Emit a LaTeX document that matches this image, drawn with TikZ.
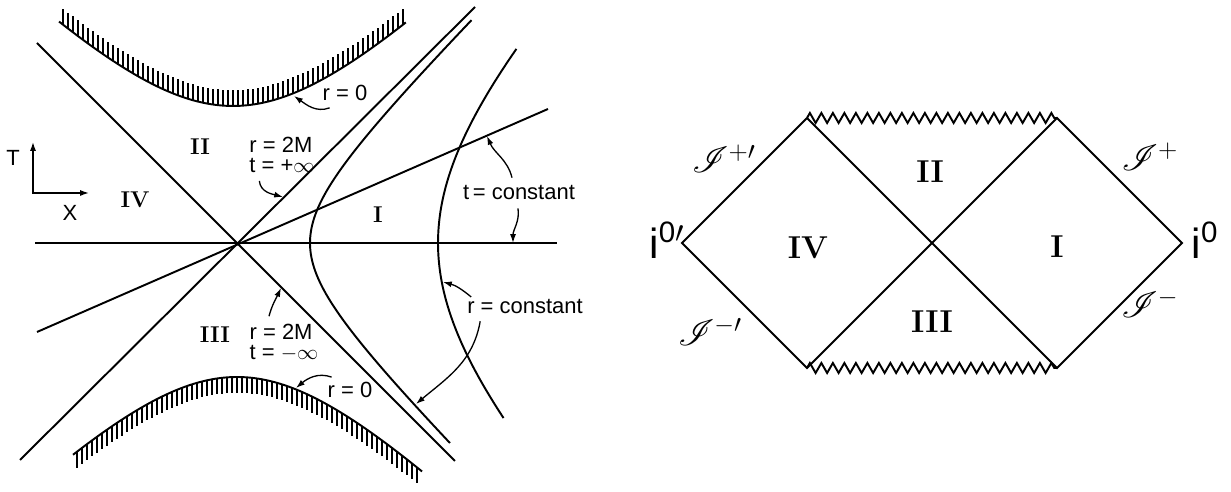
\documentclass[tikz,border=0pt]{standalone}
\usepackage{amsmath,amssymb,mathrsfs}
\usepackage{fontspec}
\setsansfont{Liberation Sans}
\usetikzlibrary{arrows.meta,positioning,decorations.pathmorphing}

\begin{document}
\begin{tikzpicture}[x=0.2mm,y=0.2mm,>={Latex[length=5pt,width=3.4pt]},
  every node/.style={align=center,inner sep=1pt},
  world/.style={line width=1.1pt},
  hatch/.style={line width=0.6pt},
  note/.style={->,line width=0.75pt},
  lab/.style={font=\sffamily\fontsize{12.5}{11.5}\selectfont},
  ilab/.style={font=\sffamily\fontsize{24}{24}\selectfont},
  roman/.style={font=\bfseries\fontsize{13}{13}\selectfont},
  bigroman/.style={font=\bfseries\fontsize{18}{18}\selectfont},
  scri/.style={font=\fontsize{20}{20}\selectfont},
  sing/.style={line width=1.1pt,decorate,decoration={zigzag,segment length=2.3mm,amplitude=1mm}}]
  \useasboundingbox (0,0) rectangle (1231,492);

  \begin{scope}[shift={(237,249)}]
    \draw[world] (-202,0) -- (320,0);
    \draw[world] (-217,-217) -- (238,236);
    \draw[world] (-200,200) -- (218,-218);
    \draw[world] (-200,-89) -- (311,134);
    \draw[world] plot[domain=-1.733:1.836,samples=80,smooth] ({73*cosh(\x)},{73*sinh(\x)});
    \draw[world] plot[domain=-0.787:0.857,samples=60,smooth] ({201*cosh(\x)},{201*sinh(\x)});
    \draw[world] plot[domain=-1.06:1.055,samples=60,smooth] ({137*sinh(\x)-4},{137*cosh(\x)});
    \draw[world] plot[domain=-1.031:1.127,samples=60,smooth] ({134*sinh(\x)},{-134*cosh(\x)});
    \foreach \X in {-170,-165,...,170}
      \draw[hatch] ({\X-4},{100*sqrt(1.37*1.37+(\X/100)*(\X/100))}) -- ++(0,16);
    \foreach \X in {-160,-155,...,184}
      \draw[hatch] (\X,{-100*sqrt(1.34*1.34+(\X/100)*(\X/100))}) -- ++(0,-16);
  \end{scope}

  \coordinate (Tend) at (33,350);
  \coordinate (Xend) at (89,299);
  \draw[<->,line width=0.8pt] (Tend) |- (Xend);
  \node[lab] (Tlab) at (13,334) {T};
  \node[lab] (Xlab) at (70,279) {X};

  \node[roman] (leftII) at (200,345) {II};
  \node[roman] (leftIV) at (135,292) {IV};
  \node[roman] (leftI) at (378,277) {I};
  \node[roman] (leftIII) at (215,157) {III};

  \coordinate (onTop) at (294,396);
  \coordinate (onBot) at (296,104);
  \coordinate (onHorA) at (283,295);
  \coordinate (onHorB) at (281,204);
  \coordinate (onT) at (487,356);
  \coordinate (onAxis) at (513,249);
  \coordinate (onOuter) at (443,210);
  \coordinate (onInner) at (416,88);

  \node[lab] (rzeroTop) at (345,399) {r = 0};
  \node[lab] (rzeroBot) at (350,102) {r = 0};
  \node[lab,align=left] (horUp) at (282,337) {r = 2M\\t = +$\infty$};
  \node[lab,align=left] (horDown) at (284,149) {r = 2M\\t = $-\infty$};
  \node[lab] (tconst) at (519,299) {t\,= constant};
  \node[lab] (rconst) at (525,185) {r = constant};

  \draw[note] ([shift={(9,-5)}]rzeroTop.south west) to[out=200,in=-35] (onTop);
  \draw[note] ([shift={(6,3)}]rzeroBot.north west) to[out=160,in=40] (onBot);
  \draw[note] ([shift={(12,-6)}]horUp.south west) to[out=-85,in=165] (onHorA);
  \draw[note] ([shift={(-15,6)}]horDown.north) to[out=75,in=-115] (onHorB);
  \draw[note] ([shift={(-7,6)}]tconst.north) to[out=104,in=-67] (onT);
  \draw[note] ([shift={(-1,-6)}]tconst.south) to[out=-82,in=90] (onAxis);
  \draw[note] ([shift={(6,10)}]rconst.west) to[out=140,in=-15] (onOuter);
  \draw[note] ([shift={(15,-5)}]rconst.south west) to[out=-100,in=40] (onInner);

  \coordinate (L) at (682,249);
  \coordinate (C) at (932,249);
  \coordinate (R) at (1182,249);
  \coordinate (TL) at (807,374);
  \coordinate (TR) at (1057,374);
  \coordinate (BL) at (807,124);
  \coordinate (BR) at (1057,124);
  \draw[world] (TL) -- (L) -- (BL) -- (TR) -- (R) -- (BR) -- (TL);
  \draw[sing] (TL) -- (TR);
  \draw[sing] (BL) -- (BR);

  \node[bigroman] (penIV) at (808,244) {IV};
  \node[bigroman] (penII) at (930,320) {II};
  \node[bigroman] (penIII) at (932,170) {III};
  \node[bigroman] (penI) at (1057,245) {I};

  \node[scri] (scriPlusL) at (724,333) {$\mathscr{I}^{+\prime}$};
  \node[scri] (scriMinusL) at (710,160) {$\mathscr{I}^{-\prime}$};
  \node[scri] (scriPlusR) at (1150,335) {$\mathscr{I}^{+}$};
  \node[scri] (scriMinusR) at (1150,188) {$\mathscr{I}^{-}$};

  \node[ilab] (izeroL) at (667,252) {i\textsuperscript{0$\prime$}};
  \node[ilab] (izeroR) at (1205,252) {i\textsuperscript{0}};
\end{tikzpicture}
\end{document}
